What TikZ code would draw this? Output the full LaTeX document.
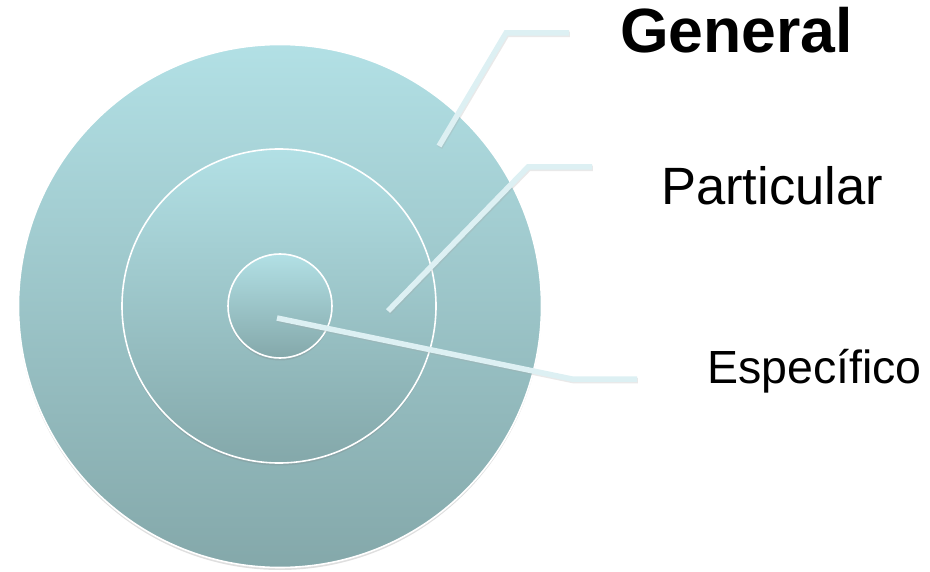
\documentclass[tikz,border=0pt]{standalone}
\usepackage{fontspec}
\setmainfont{Liberation Sans}
\usetikzlibrary{shadows,shadings}
\definecolor{ctop}{RGB}{178,224,229}
\definecolor{cbot}{RGB}{132,168,170}
\definecolor{leader}{RGB}{221,240,243}
\tikzset{
  ring/.style={circle, draw=white, line width=1.6pt, top color=ctop, bottom color=cbot, inner sep=0pt,
    drop shadow={opacity=0.25, shadow xshift=0pt, shadow yshift=-2.5pt}},
  leaderline/.style={draw=leader, line width=5.5pt, line cap=butt, line join=miter,
    preaction={draw=black!35, opacity=0.25, line width=5.5pt, transform canvas={xshift=0.8pt, yshift=-1.5pt}}},
  lbl/.style={anchor=base west, inner sep=0pt, text=black}
}
\begin{document}
\begin{tikzpicture}[x=1pt,y=-1pt]
\useasboundingbox (0,0) rectangle (930,572);
\node[ring, minimum size=523pt] (outer) at (280,306) {};
\node[ring, minimum size=314pt] (middle) at (279,306) {};
\node[ring, minimum size=104pt] (inner) at (280,306) {};

\coordinate (g1) at (439,146);
\coordinate (g2) at (506,33);
\coordinate (g3) at (569,33);
\coordinate (p1) at (388,311);
\coordinate (p2) at (528,167);
\coordinate (p3) at (592,167);
\coordinate (e1) at (277,318);
\coordinate (e2) at (572,379);
\coordinate (e3) at (637,379);

\draw[leaderline] (g1) -- (g2) -- (g3);
\draw[leaderline] (p1) -- (p2) -- (p3);
\draw[leaderline] (e1) -- (e2) -- (e3);

\node[lbl, font=\bfseries\fontsize{62.5}{62.5}\selectfont] (general) at (620,53) {General};
\node[lbl, font=\fontsize{52.5}{52.5}\selectfont] (particular) at (661,205) {Particular};
\node[lbl, font=\fontsize{46.5}{46.5}\selectfont] (especifico) at (707,383) {Específico};
\end{tikzpicture}
\end{document}
